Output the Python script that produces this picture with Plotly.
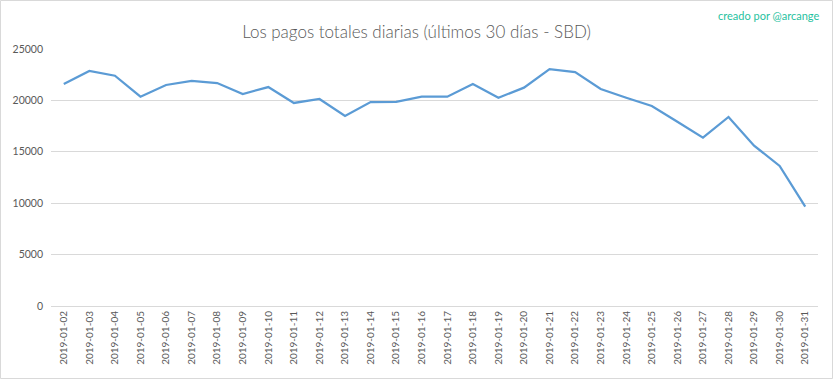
import plotly.graph_objects as go

dates = ["2019-01-%02d" % d for d in range(2, 32)]
pagos = [21600, 22860, 22400, 20360, 21500, 21890, 21690, 20620, 21300, 19750,
         20140, 18480, 19840, 19860, 20360, 20360, 21600, 20260, 21240, 23050,
         22760, 21110, 20260, 19460, 17930, 16370, 18390, 15600, 13620, 9660]
y_ticks = [0, 5000, 10000, 15000, 20000, 25000]

W, H = 833, 379
ML, MR, MT, MB = 51, 15, 49, 73
PW, PH = W - ML - MR, H - MT - MB

fig = go.Figure()
fig.add_trace(go.Scatter(
    x=dates, y=pagos, mode="lines",
    line=dict(color="#5B9BD5", width=2.25),
    hoverinfo="x+y", showlegend=False,
))

fig.update_layout(
    width=W, height=H,
    margin=dict(l=ML, r=MR, t=MT, b=MB, pad=0),
    paper_bgcolor="white", plot_bgcolor="white",
    font=dict(family="Lato, 'Liberation Sans', sans-serif", color="#595959"),
    title=dict(
        text="Los pagos totales diarias (últimos 30 días - SBD)",
        x=0.5, xref="container", xanchor="center",
        y=1 - 32 / H, yref="container", yanchor="middle",
        font=dict(size=17, color="#595959", family="Lato, sans-serif", weight=300),
    ),
    xaxis=dict(
        type="category", range=[-0.5, len(dates) - 0.5],
        tickangle=-90, tickfont=dict(size=10, color="#595959"),
        showgrid=False, showline=True, linecolor="#d9d9d9", linewidth=1,
        ticks="", zeroline=False, fixedrange=True,
    ),
    yaxis=dict(
        range=[0, 25000], tickvals=y_ticks, ticktext=[str(v) for v in y_ticks],
        tickfont=dict(size=10.5, color="#595959"),
        showgrid=True, gridcolor="#d9d9d9", gridwidth=1,
        zeroline=False, showline=False, ticks="", ticklabelstandoff=7,
        fixedrange=True,
    ),
    annotations=[dict(
        text="creado por @arcange", xref="paper", yref="paper",
        x=(821 - ML) / PW, y=(H - 15 - MB) / PH,
        xanchor="right", yanchor="middle", showarrow=False,
        font=dict(size=11, color="#1fc2a0", family="Lato, sans-serif"),
    )],
    shapes=[dict(
        type="rect", xref="paper", yref="paper",
        x0=(0.5 - ML) / PW, x1=(W - 0.5 - ML) / PW,
        y0=(0.5 - MB) / PH, y1=(H - 0.5 - MB) / PH,
        line=dict(color="#d9d9d9", width=1), layer="below",
    )],
)

fig.write_html(
    "out.html",
    config={"displayModeBar": False},
    post_script="document.body.style.margin='0';document.body.style.padding='0';",
)
